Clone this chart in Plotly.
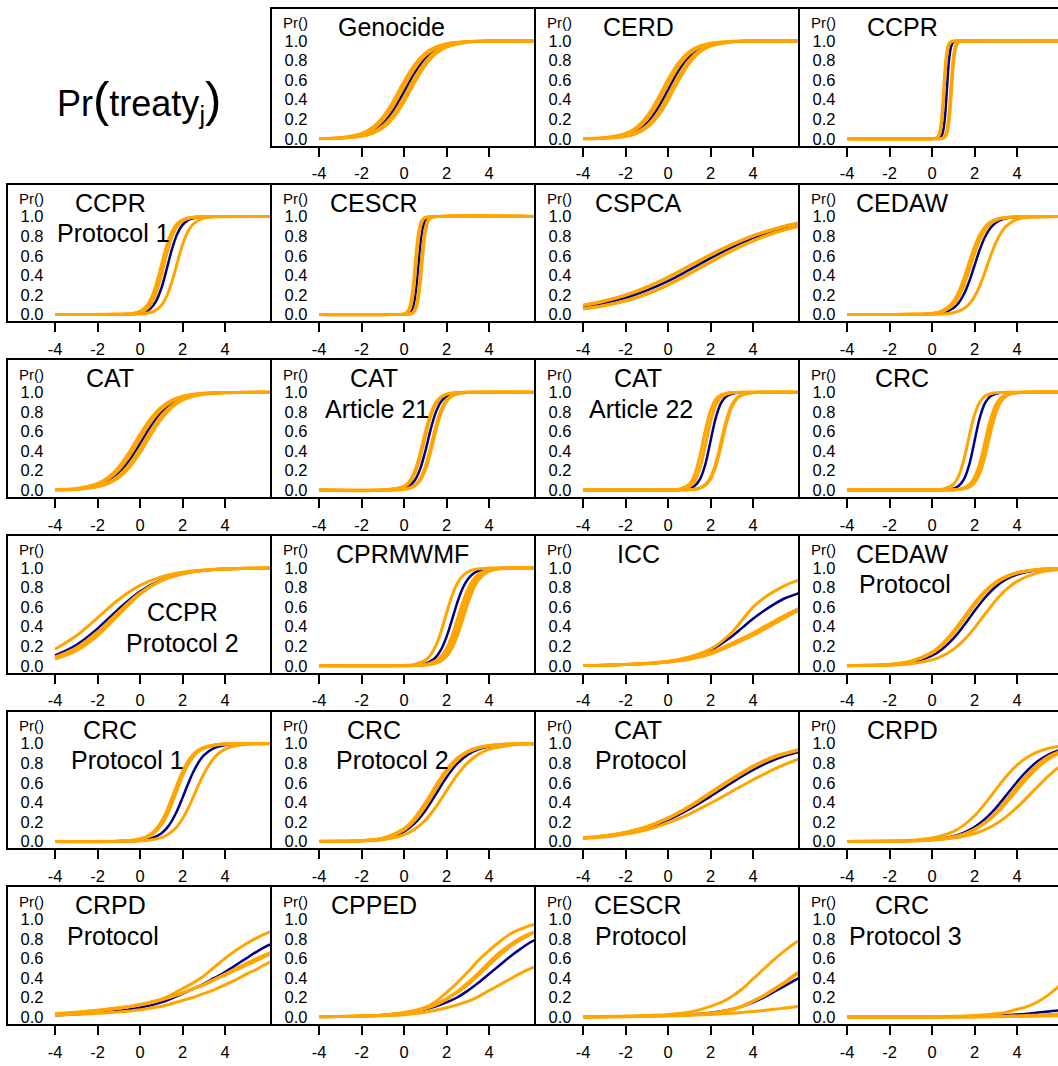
import plotly.graph_objects as go

W, H = 1058, 1066

# ------------------------------------------------------------------ data
x_ticks = [-4, -2, 0, 2, 4]
x_tick_labels = ["-4", "-2", "0", "2", "4"]
y_ticks = [0, 0.2, 0.4, 0.6, 0.8, 1.0]
y_tick_labels = ["0.0", "0.2", "0.4", "0.6", "0.8", "1.0"]

genocide_x = [-4, -3, -2, -1.5, -1, -0.5, 0, 0.5, 1, 1.5, 2, 3, 4, 6.5]
genocide_blue = [.0015, .0075, .036, .077, .157, .293, .48, .673, .821, .911, .958, .991, .998, 1]
genocide_orange = [
    [.0023, .0114, .054, .113, .221, .386, .584, .758, .874, .939, .972, .994, .999, 1],
    [.0019, .0094, .045, .095, .189, .341, .536, .720, .851, .927, .966, .992, .998, 1],
    [.0012, .006, .029, .063, .130, .249, .425, .622, .786, .891, .948, .989, .998, 1],
    [.001, .005, .024, .052, .109, .214, .378, .575, .751, .870, .937, .987, .997, 1],
]

cerd_x = [-4, -3, -2, -1.5, -1, -0.5, 0, 0.5, 1, 1.5, 2, 3, 4, 6.5]
cerd_blue = [.0014, .007, .036, .078, .161, .304, .5, .696, .839, .922, .964, .993, .999, 1]
cerd_orange = [
    [.0021, .0108, .054, .114, .228, .402, .606, .778, .889, .948, .977, .9954, .999, 1],
    [.0017, .0088, .044, .096, .195, .356, .557, .742, .868, .938, .971, .994, .999, 1],
    [.0011, .0056, .029, .062, .132, .258, .443, .644, .805, .904, .956, .991, .998, 1],
    [.0009, .0046, .023, .052, .111, .222, .394, .598, .772, .886, .946, .989, .998, 1],
]

ccpr_x = [-4, 0, 0.2, 0.3, 0.4, 0.5, 0.6, 0.7, 0.8, 0.9, 1.0, 1.1, 1.2, 1.3, 1.5, 6.5]
ccpr_blue = [0, 0, .0009, .0037, .015, .057, .198, .5, .802, .943, .985, .996, .999, 1, 1, 1]
ccpr_orange = [
    [0, .0005, .007, .029, .109, .332, .668, .891, .971, .993, .998, 1, 1, 1, 1, 1],
    [0, .0003, .0056, .022, .085, .273, .603, .861, .962, .990, .998, 1, 1, 1, 1, 1],
    [0, 0, 0, .0005, .002, .007, .026, .088, .261, .565, .826, .946, .985, .996, 1, 1],
    [0, 0, 0, 0, .001, .004, .015, .054, .174, .435, .739, .912, .974, .993, 1, 1],
]

ccpr_p1_x = [-4, -1, -0.5, 0, 0.25, 0.5, 0.75, 1, 1.25, 1.5, 1.75, 2, 2.25, 2.5, 3, 3.5, 6.5]
ccpr_p1_blue = [0, .0004, .002, .012, .027, .062, .134, .265, .458, .664, .822, .915, .962, .983, .997, .9995, 1]
ccpr_p1_orange = [
    [0, .001, .006, .032, .072, .154, .30, .5, .70, .846, .928, .968, .986, .994, .999, 1, 1],
    [0, .0009, .005, .026, .058, .126, .252, .44, .648, .812, .91, .959, .982, .992, .998, 1, 1],
    [0, .0006, .0034, .019, .045, .102, .214, .397, .612, .791, .90, .956, .981, .992, .998, 1, 1],
    [0, 0, .0008, .004, .009, .020, .043, .091, .182, .332, .525, .711, .846, .924, .984, .997, 1],
]

cescr_x = [-4, 0, 0.1, 0.2, 0.3, 0.4, 0.5, 0.6, 0.7, 0.8, 0.9, 1.0, 1.1, 1.2, 1.4, 6.5]
cescr_blue = [0, .001, .003, .008, .022, .057, .142, .31, .55, .769, .90, .961, .985, .9945, .9993, 1]
cescr_orange = [
    [0, .0055, .015, .039, .10, .231, .45, .69, .858, .943, .978, .992, .997, .999, 1, 1],
    [0, .0037, .010, .027, .069, .168, .354, .599, .802, .917, .968, .988, .995, .998, 1, 1],
    [0, .0003, .0009, .0025, .0067, .018, .047, .119, .269, .5, .731, .881, .953, .982, .9975, 1],
    [0, .0002, .0006, .0017, .0045, .012, .032, .083, .198, .401, .646, .832, .931, .973, .996, 1],
]

cspca_x = [-4, -3, -2, -1, 0, 1, 2, 3, 4, 5, 6, 6.5]
cspca_blue = [.075, .113, .168, .245, .34, .455, .575, .685, .78, .855, .91, .93]
cspca_orange = [
    [.092, .135, .195, .275, .375, .49, .605, .71, .80, .87, .925, .94],
    [.095, .139, .20, .281, .382, .497, .612, .717, .806, .875, .93, .945],
    [.058, .092, .142, .212, .305, .42, .54, .655, .755, .835, .895, .915],
    [.055, .088, .137, .206, .298, .413, .534, .65, .75, .832, .892, .912],
]

cedaw_x = [-4, -1, 0, 0.5, 1, 1.25, 1.5, 1.75, 2, 2.25, 2.5, 2.75, 3, 3.25, 3.5, 4, 4.5, 6.5]
cedaw_blue = [0, .0003, .0045, .017, .063, .117, .206, .337, .5, .663, .794, .883, .937, .967, .983, .9955, .9988, 1]
cedaw_orange = [
    [0, .0007, .010, .038, .131, .229, .368, .534, .692, .815, .897, .944, .971, .985, .992, .998, .9995, 1],
    [0, .0006, .0086, .032, .114, .201, .331, .493, .657, .790, .881, .935, .966, .982, .991, .998, .9994, 1],
    [0, .0005, .0073, .028, .099, .177, .297, .453, .619, .762, .862, .925, .960, .979, .989, .997, .9993, 1],
    [0, 0, .0015, .0052, .018, .033, .060, .107, .182, .294, .438, .593, .731, .835, .905, .971, .991, 1],
]

cat_x = [-4, -3, -2, -1.5, -1, -0.5, 0, 0.5, 1, 1.5, 2, 2.5, 3, 4, 6.5]
cat_blue = [.0027, .0115, .047, .093, .175, .304, .475, .651, .794, .889, .943, .971, .986, .9967, 1]
cat_orange = [
    [.004, .0168, .068, .130, .237, .389, .569, .731, .849, .921, .960, .980, .990, .9977, 1],
    [.0033, .014, .057, .112, .206, .349, .525, .696, .825, .907, .953, .977, .988, .997, 1],
    [.0022, .0095, .039, .077, .148, .263, .425, .603, .759, .866, .931, .965, .983, .996, 1],
    [.0019, .008, .033, .066, .127, .231, .382, .562, .725, .845, .918, .959, .980, .995, 1],
]

cat_a21_x = [-4, -1, 0, 0.25, 0.5, 0.75, 1, 1.25, 1.5, 1.75, 2, 2.25, 2.5, 3, 6.5]
cat_a21_blue = [0, .0005, .017, .042, .097, .209, .394, .615, .797, .906, .960, .983, .993, .9989, 1]
cat_a21_orange = [
    [0, .0011, .038, .088, .192, .368, .589, .779, .897, .955, .981, .992, .997, .9995, 1],
    [0, .0009, .032, .074, .165, .327, .545, .746, .879, .947, .978, .991, .996, .9994, 1],
    [0, .0002, .0086, .021, .050, .114, .240, .438, .657, .825, .921, .966, .986, .998, 1],
    [0, .0002, .0069, .017, .040, .094, .203, .385, .606, .791, .903, .958, .982, .997, 1],
]

cat_a22_x = [-4, 0, 0.5, 1, 1.25, 1.5, 1.75, 2, 2.25, 2.5, 2.75, 3, 3.25, 3.5, 4, 6.5]
cat_a22_blue = [0, .0002, .0018, .015, .041, .109, .259, .5, .741, .891, .959, .985, .995, .998, 1, 1]
cat_a22_orange = [
    [0, .001, .008, .061, .157, .348, .603, .813, .926, .973, .990, .997, .999, 1, 1, 1],
    [0, .0005, .004, .034, .090, .221, .448, .698, .869, .950, .982, .994, .998, .999, 1, 1],
    [0, 0, .0005, .0033, .0086, .022, .055, .130, .279, .5, .721, .870, .945, .978, .997, 1],
    [0, 0, .0004, .0028, .007, .018, .046, .110, .242, .453, .681, .847, .935, .974, .996, 1],
]

crc_x = [-4, 0, 0.5, 1, 1.25, 1.5, 1.75, 2, 2.25, 2.5, 2.75, 3, 3.25, 3.5, 4, 6.5]
crc_blue = [0, .0002, .0018, .015, .041, .109, .259, .5, .741, .891, .959, .985, .995, .998, 1, 1]
crc_orange = [
    [0, .001, .008, .057, .142, .31, .55, .769, .90, .961, .985, .9945, .998, .999, 1, 1],
    [0, 0, .0005, .0033, .0086, .022, .055, .130, .279, .5, .721, .870, .945, .978, .997, 1],
    [0, 0, .0004, .0025, .0064, .016, .041, .10, .223, .425, .657, .832, .928, .971, .9955, 1],
    [0, 0, .0003, .0018, .0047, .012, .030, .075, .174, .352, .584, .784, .904, .961, .994, 1],
]

ccpr_p2_x = [-4, -3, -2, -1, 0, 1, 2, 3, 4, 5, 6.5]
ccpr_p2_blue = [.106, .212, .380, .582, .759, .878, .942, .974, .988, .995, .998]
ccpr_p2_orange = [
    [.168, .306, .49, .677, .821, .909, .956, .979, .990, .996, .9986],
    [.0785, .1685, .3265, .537, .736, .870, .941, .975, .9895, .9955, .999],
    [.088, .184, .345, .552, .743, .871, .940, .974, .989, .995, .999],
    [.069, .153, .308, .522, .729, .869, .942, .976, .990, .996, .999],
]

cprmwmf_x = [-4, 0, 0.5, 1, 1.25, 1.5, 1.75, 2, 2.25, 2.5, 2.75, 3, 3.25, 3.5, 4, 4.5, 6.5]
cprmwmf_blue = [0, .0013, .0054, .022, .045, .089, .168, .295, .464, .641, .787, .884, .940, .970, .993, .998, 1]
cprmwmf_orange = [
    [0, .0029, .013, .055, .109, .206, .354, .537, .711, .839, .917, .959, .980, .991, .998, 1, 1],
    [0, .0008, .0032, .013, .026, .050, .096, .177, .301, .465, .636, .779, .877, .935, .983, .996, 1],
    [0, .0006, .0022, .009, .018, .036, .069, .130, .231, .378, .55, .711, .832, .909, .976, .994, 1],
    [0, .0004, .0016, .0064, .013, .026, .050, .096, .177, .301, .465, .636, .779, .877, .966, .991, 1],
]

icc_x = [-4, -3, -2, -1, 0, 1, 2, 3, 3.5, 4, 4.5, 5, 5.5, 6, 6.5]
icc_blue = [.003, .006, .013, .024, .042, .08, .16, .30, .39, .48, .56, .63, .69, .73, .77]
icc_orange = [
    [.003, .006, .013, .025, .045, .09, .17, .34, .47, .60, .69, .76, .82, .865, .90],
    [.003, .006, .012, .022, .04, .07, .13, .22, .27, .32, .38, .44, .50, .56, .61],
    [.003, .006, .012, .021, .038, .066, .12, .21, .26, .31, .37, .43, .49, .55, .60],
    [.003, .006, .012, .022, .041, .072, .135, .23, .28, .335, .395, .455, .515, .57, .62],
]

cedaw_p_x = [-4, -3, -2, -1, 0, 0.5, 1, 1.5, 2, 2.5, 3, 3.5, 4, 5, 6, 6.5]
cedaw_p_blue = [.001, .0031, .010, .034, .103, .174, .277, .411, .560, .698, .808, .885, .933, .979, .994, .9965]
cedaw_p_orange = [
    [.0012, .004, .013, .042, .128, .211, .327, .470, .618, .746, .843, .907, .947, .983, .995, .997],
    [.0013, .0044, .0145, .046, .139, .228, .350, .495, .641, .765, .856, .915, .952, .985, .9954, .9975],
    [.00125, .0042, .0138, .044, .1335, .2195, .3385, .4825, .6295, .7555, .8495, .911, .9495, .984, .9952, .9972],
    [.0006, .002, .0063, .020, .060, .101, .167, .262, .387, .529, .666, .780, .863, .952, .984, .991],
]

crc_p1_x = [-4, -1, 0, 0.5, 1, 1.25, 1.5, 1.75, 2, 2.25, 2.5, 2.75, 3, 3.5, 4, 4.5, 5, 6.5]
crc_p1_blue = [0, .0011, .0098, .029, .082, .134, .211, .316, .445, .582, .707, .807, .879, .956, .985, .995, .998, 1]
crc_p1_orange = [
    [0, .0025, .025, .074, .201, .309, .443, .585, .715, .817, .888, .934, .962, .987, .996, .9987, 1, 1],
    [0, .002, .020, .060, .167, .262, .387, .529, .666, .780, .863, .918, .952, .984, .995, .998, 1, 1],
    [0, .00225, .0225, .067, .184, .2855, .415, .557, .6905, .7985, .8755, .926, .957, .9855, .9955, .9984, 1, 1],
    [0, .0007, .0055, .015, .039, .063, .10, .154, .231, .332, .45, .574, .69, .858, .943, .978, .992, 1],
]

crc_p2_x = [-4, -3, -2, -1, 0, 0.5, 1, 1.5, 2, 2.5, 3, 3.5, 4, 5, 6, 6.5]
crc_p2_blue = [.0004, .0016, .0064, .026, .10, .184, .314, .483, .655, .794, .887, .941, .970, .993, .998, .999]
crc_p2_orange = [
    [.0005, .002, .0083, .034, .132, .239, .393, .572, .734, .851, .922, .960, .980, .9953, .999, 1],
    [.0004, .0017, .0072, .030, .116, .213, .359, .536, .705, .831, .911, .955, .977, .9946, .999, 1],
    [.00045, .00185, .00775, .032, .124, .226, .376, .554, .7195, .841, .9165, .9575, .9785, .995, .999, 1],
    [.0003, .0013, .0048, .018, .067, .124, .217, .352, .517, .677, .805, .890, .941, .984, .996, .998],
]

cat_p_x = [-4, -3, -2, -1, 0, 1, 2, 3, 4, 5, 6, 6.5]
cat_p_blue = [.035, .055, .085, .14, .22, .33, .46, .60, .73, .835, .905, .93]
cat_p_orange = [
    [.035, .055, .09, .15, .24, .36, .50, .64, .77, .87, .93, .955],
    [.038, .058, .092, .148, .235, .352, .49, .63, .76, .86, .925, .95],
    [.03, .045, .075, .12, .19, .28, .39, .51, .63, .74, .83, .87],
    [.0365, .0565, .091, .149, .2375, .356, .495, .635, .765, .865, .9275, .9525],
]

crpd_x = [-4, -2, -1, 0, 1, 1.5, 2, 2.5, 3, 3.5, 4, 4.5, 5, 5.5, 6, 6.5]
crpd_blue = [.0002, .002, .0063, .019, .054, .090, .147, .230, .341, .473, .608, .729, .824, .890, .933, .960]
crpd_orange = [
    [.0004, .0035, .011, .034, .10, .167, .262, .387, .529, .666, .780, .863, .918, .952, .972, .984],
    [.0002, .0017, .0052, .0154, .045, .075, .123, .196, .297, .423, .560, .688, .792, .869, .920, .952],
    [.0002, .002, .0058, .016, .045, .074, .12, .187, .280, .397, .526, .652, .760, .843, .901, .939],
    [.0004, .0024, .0059, .014, .035, .053, .081, .121, .178, .254, .348, .455, .567, .673, .763, .835],
]

crpd_p_x = [-4, -3, -2, -1, 0, 1, 2, 2.5, 3, 3.5, 4, 4.5, 5, 5.5, 6, 6.5]
crpd_p_blue = [.02, .03, .045, .065, .095, .15, .24, .29, .34, .40, .46, .53, .60, .67, .73, .78]
crpd_p_orange = [
    [.03, .045, .065, .09, .125, .18, .29, .35, .42, .51, .60, .68, .75, .81, .86, .90],
    [.035, .05, .07, .095, .13, .18, .25, .29, .33, .38, .43, .48, .53, .58, .63, .67],
    [.032, .047, .067, .092, .125, .175, .245, .29, .335, .385, .44, .495, .55, .60, .645, .69],
    [.02, .028, .038, .052, .075, .11, .17, .20, .24, .28, .33, .38, .44, .49, .55, .59],
]

cpped_x = [-4, -2, -1, 0, 1, 1.5, 2, 2.5, 3, 3.5, 4, 4.5, 5, 5.5, 6, 6.5]
cpped_blue = [.004, .012, .022, .042, .08, .11, .15, .2, .27, .35, .44, .53, .62, .70, .77, .82]
cpped_orange = [
    [.003, .01, .02, .045, .1, .16, .25, .35, .46, .58, .68, .77, .85, .90, .94, .96],
    [.003, .01, .02, .045, .09, .13, .19, .26, .35, .45, .56, .66, .74, .81, .86, .90],
    [.003, .01, .02, .044, .088, .125, .18, .25, .33, .43, .53, .63, .72, .79, .85, .89],
    [.003, .008, .014, .025, .05, .07, .095, .125, .16, .21, .27, .33, .39, .45, .50, .54],
]

cescr_p_x = [-4, -2, 0, 1, 2, 2.5, 3, 3.5, 4, 4.5, 5, 5.5, 6, 6.5]
cescr_p_blue = [.002, .006, .017, .027, .045, .06, .08, .11, .15, .2, .26, .32, .38, .44]
cescr_p_orange = [
    [.003, .01, .027, .05, .11, .15, .21, .29, .39, .49, .59, .68, .76, .82],
    [.002, .006, .015, .024, .04, .055, .08, .115, .165, .22, .29, .36, .44, .50],
    [.002, .006, .015, .024, .04, .054, .075, .11, .16, .215, .28, .35, .43, .49],
    [.001, .004, .012, .018, .027, .033, .04, .048, .058, .068, .08, .092, .105, .118],
]

crc_p3_x = [-4, -2, 0, 1, 2, 3, 3.5, 4, 4.5, 5, 5.5, 6, 6.5]
crc_p3_blue = [0, .001, .002, .004, .008, .014, .019, .026, .035, .046, .058, .07, .085]
crc_p3_orange = [
    [0, .001, .004, .008, .017, .035, .05, .08, .11, .16, .23, .32, .42],
    [0, .0005, .001, .002, .004, .007, .009, .012, .016, .02, .026, .032, .04],
    [0, .0005, .001, .0015, .003, .005, .0065, .009, .011, .014, .018, .022, .026],
    [0, .0003, .0007, .001, .002, .004, .005, .007, .008, .01, .012, .015, .018],
]

panel_titles = [
    ["Genocide"], ["CERD"], ["CCPR"],
    ["CCPR", "Protocol 1"], ["CESCR"], ["CSPCA"], ["CEDAW"],
    ["CAT"], ["CAT", "Article 21"], ["CAT", "Article 22"], ["CRC"],
    ["CCPR", "Protocol 2"], ["CPRMWMF"], ["ICC"], ["CEDAW", "Protocol"],
    ["CRC", "Protocol 1"], ["CRC", "Protocol 2"], ["CAT", "Protocol"], ["CRPD"],
    ["CRPD", "Protocol"], ["CPPED"], ["CESCR", "Protocol"], ["CRC", "Protocol 3"],
]
panel_x = [genocide_x, cerd_x, ccpr_x, ccpr_p1_x, cescr_x, cspca_x, cedaw_x,
           cat_x, cat_a21_x, cat_a22_x, crc_x, ccpr_p2_x, cprmwmf_x, icc_x, cedaw_p_x,
           crc_p1_x, crc_p2_x, cat_p_x, crpd_x, crpd_p_x, cpped_x, cescr_p_x, crc_p3_x]
panel_blue = [genocide_blue, cerd_blue, ccpr_blue, ccpr_p1_blue, cescr_blue, cspca_blue, cedaw_blue,
              cat_blue, cat_a21_blue, cat_a22_blue, crc_blue, ccpr_p2_blue, cprmwmf_blue, icc_blue,
              cedaw_p_blue, crc_p1_blue, crc_p2_blue, cat_p_blue, crpd_blue, crpd_p_blue, cpped_blue,
              cescr_p_blue, crc_p3_blue]
panel_orange = [genocide_orange, cerd_orange, ccpr_orange, ccpr_p1_orange, cescr_orange, cspca_orange,
                cedaw_orange, cat_orange, cat_a21_orange, cat_a22_orange, crc_orange, ccpr_p2_orange,
                cprmwmf_orange, icc_orange, cedaw_p_orange, crc_p1_orange, crc_p2_orange, cat_p_orange,
                crpd_orange, crpd_p_orange, cpped_orange, cescr_p_orange, crc_p3_orange]

# ------------------------------------------------------------------ layout helpers
BLUE = "#00008B"
ORANGE = "#FFA500"
FONT = "Liberation Sans, Arial, Helvetica, sans-serif"

grid_cells = [(0, 1), (0, 2), (0, 3)] + [(r, c) for r in range(1, 6) for c in range(4)]
PX_PER_UNIT = 21.25
X0 = -6.212
Y_RANGE = [-0.0714, 1.3265]

default_offsets = [(102, 18), (105, 48.5)]
special_offsets = {
    0: [(119, 18)],
    12: [(130, 18)],
    11: [(174.5, 76), (174.5, 107)],
    15: [(102, 18), (119, 48.5)],
    16: [(102, 18), (120, 48.5)],
}

fig = go.Figure()
annotations = []

for i, (r, c) in enumerate(grid_cells):
    left = 8 + 264 * c
    right = min(left + 264, W)
    top = 9 + 176 * r
    bottom = 146 + 176 * r
    n = i + 1
    xname = "x" if n == 1 else f"x{n}"
    yname = "y" if n == 1 else f"y{n}"
    xkey = "xaxis" if n == 1 else f"xaxis{n}"
    ykey = "yaxis" if n == 1 else f"yaxis{n}"

    fig.update_layout({
        xkey: dict(
            domain=[left / W, right / W], anchor=yname,
            range=[X0, X0 + (right - left) / PX_PER_UNIT],
            showline=True, mirror=True, linecolor="black", linewidth=1.6,
            showgrid=False, zeroline=False,
            tickmode="array", tickvals=x_ticks, ticktext=x_tick_labels,
            ticks="outside", ticklen=9, tickwidth=1.5, tickcolor="black",
            tickfont=dict(size=16.5, color="black", family=FONT),
            ticklabelstandoff=3,
            fixedrange=True,
        ),
        ykey: dict(
            domain=[1 - bottom / H, 1 - top / H], anchor=xname,
            range=Y_RANGE,
            showline=True, mirror=False, linecolor="black", linewidth=1.6,
            showgrid=False, zeroline=False,
            tickmode="array", tickvals=y_ticks, ticktext=y_tick_labels,
            ticks="", ticklabelposition="inside", ticklabeloverflow="allow",
            ticklabelstandoff=13,
            tickfont=dict(size=16.5, color="black", family=FONT),
            fixedrange=True,
        ),
    })

    # blue (main) curve first, the orange curves are drawn over it
    fig.add_trace(go.Scatter(
        x=panel_x[i], y=panel_blue[i], mode="lines", xaxis=xname, yaxis=yname,
        line=dict(color=BLUE, width=2.5, shape="spline", smoothing=1.0),
        showlegend=False, hoverinfo="skip"))
    for curve in panel_orange[i]:
        fig.add_trace(go.Scatter(
            x=panel_x[i], y=curve, mode="lines", xaxis=xname, yaxis=yname,
            line=dict(color=ORANGE, width=3.0, shape="spline", smoothing=1.0),
            showlegend=False, hoverinfo="skip"))

    annotations.append(dict(
        text="Pr()", xref="paper", yref="paper",
        x=(left + 38) / W, y=1 - (top + 14) / H, xanchor="right", yanchor="middle",
        showarrow=False, font=dict(size=15, color="black", family=FONT)))

    offs = special_offsets.get(i, default_offsets)
    for k, line_text in enumerate(panel_titles[i]):
        dx, dy = offs[k]
        annotations.append(dict(
            text=line_text, xref="paper", yref="paper",
            x=(left + dx) / W, y=1 - (top + dy) / H, xanchor="center", yanchor="middle",
            showarrow=False, font=dict(size=25, color="black", family=FONT)))

annotations.append(dict(
    text=('Pr<span style="font-size:49px">(</span>treaty<sub>j</sub>'
          '<span style="font-size:49px">)</span>'),
    xref="paper", yref="paper",
    x=139 / W, y=1 - 101 / H, xanchor="center", yanchor="middle",
    showarrow=False, font=dict(size=36, color="black", family=FONT)))

fig.update_layout(
    width=W, height=H, margin=dict(l=0, r=0, t=0, b=0),
    paper_bgcolor="white", plot_bgcolor="white",
    font=dict(family=FONT, color="black"),
    annotations=annotations, showlegend=False,
)

fig.write_html("out.html")
